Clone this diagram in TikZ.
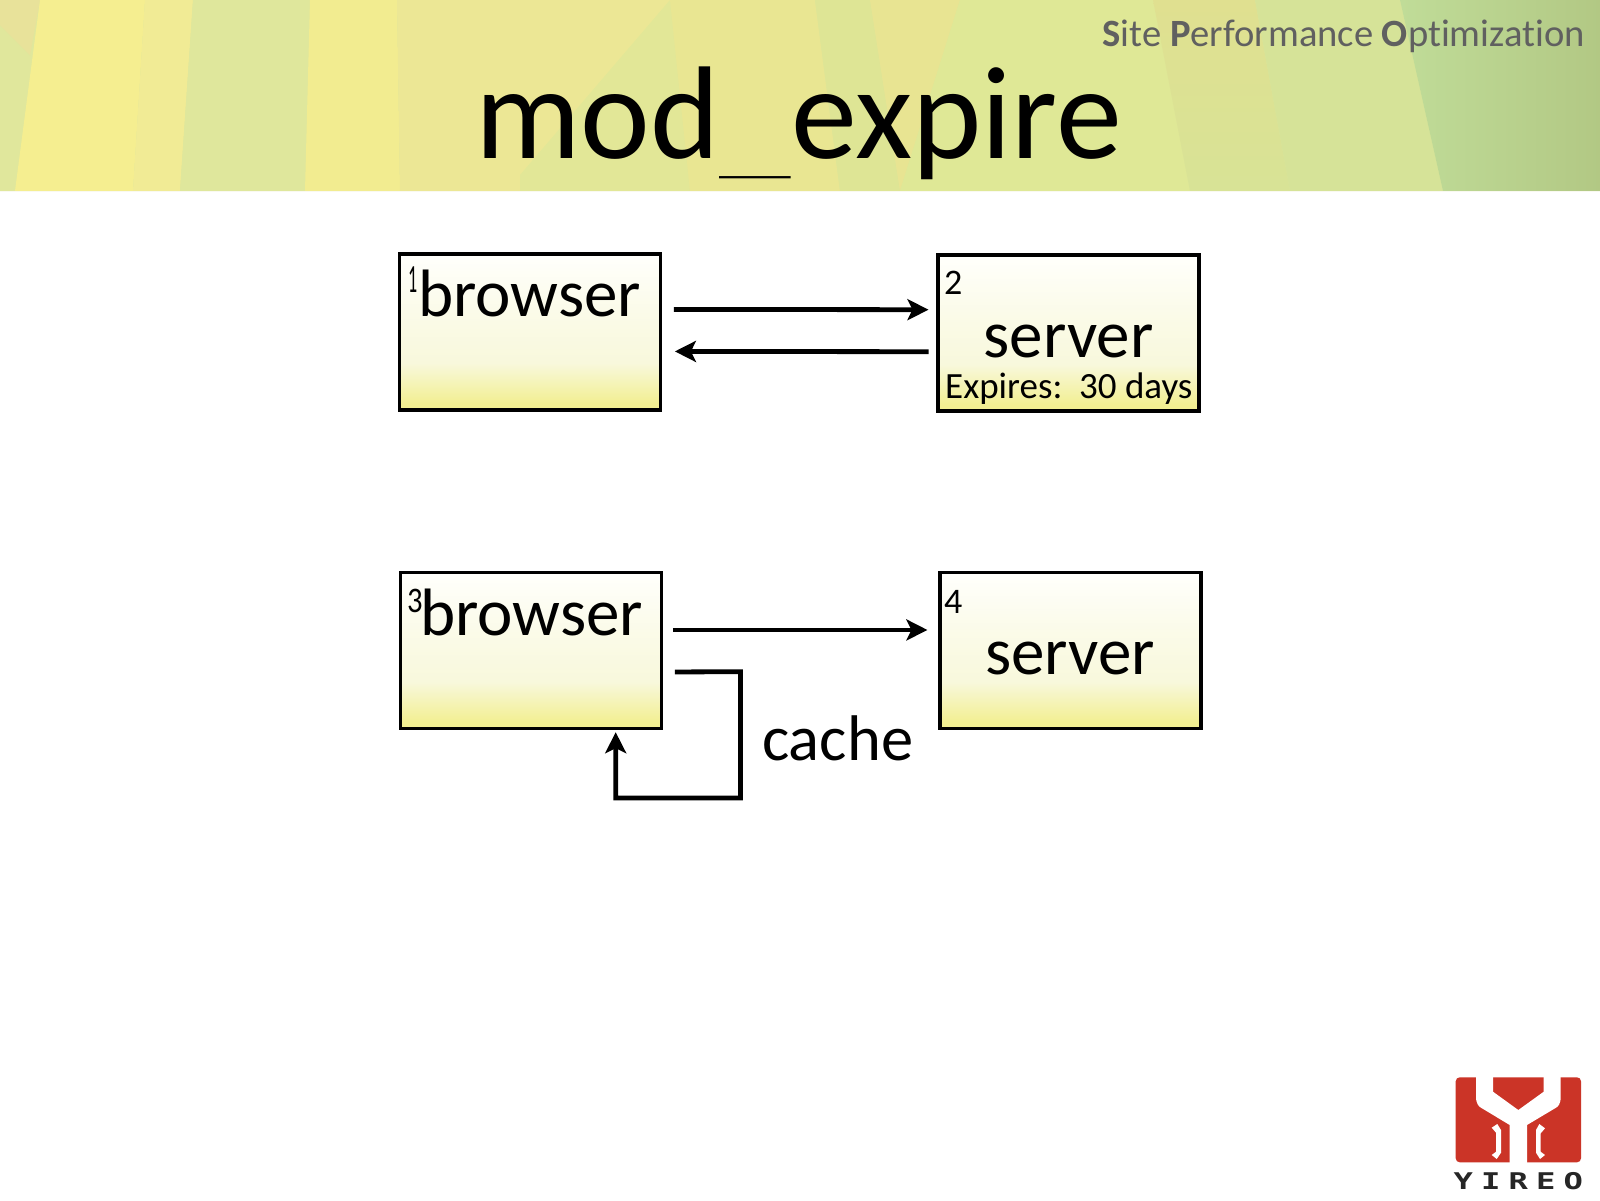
\documentclass[tikz,border=0pt]{standalone}
\usepackage{graphicx}
\usepackage{fontspec}
\setmainfont[Ligatures=NoCommon]{Carlito}
\newfontfamily\logofont{DejaVu Sans Mono}
\usetikzlibrary{arrows.meta,calc}
\definecolor{boxtop}{HTML}{FFFFFB}
\definecolor{boxmid}{HTML}{F8F8DC}
\definecolor{boxbot}{HTML}{F2EF92}
\definecolor{logored}{HTML}{CB3427}
\definecolor{hdgray}{HTML}{606060}
\definecolor{hdbase}{HTML}{E0E79C}
\definecolor{hdright}{HTML}{B2C884}
\definecolor{hdcorner}{HTML}{E8E29A}
\definecolor{hdwedge}{HTML}{E2E797}
\definecolor{hdgreen}{HTML}{C0DC98}
\definecolor{hdmidr}{HTML}{C6D98F}
\definecolor{hdbrownt}{HTML}{E0E090}
\definecolor{hdbrownb}{HTML}{D8E396}
\definecolor{hdedge}{HTML}{F9F9F0}
\pgfdeclareverticalshading{boxshade}{100bp}{color(0bp)=(boxbot);color(27bp)=(boxbot);color(40bp)=(boxmid);color(56bp)=(boxmid!60!boxtop);color(74bp)=(boxtop);color(100bp)=(boxtop)}
\newcommand{\band}[5]{\definecolor{bandcol}{HTML}{#5}\fill[bandcol] (#1,0) -- (#2,0) -- (#3,191) -- (#4,191) -- cycle;}
\tikzset{
  x=1pt,y=-1pt,
  diagbox/.style={draw=black,line width=3.5pt,shading=boxshade,inner sep=0pt,minimum width=261pt,minimum height=156pt,anchor=north west},
  lbl/.style={inner sep=0pt,anchor=base west,text=black},
  biglbl/.style={lbl,font=\fontsize{67}{67}\selectfont},
  numlbl/.style={lbl,font=\fontsize{36}{36}\selectfont},
  flow/.style={draw=black,line width=4.8pt,-{Stealth[length=21pt,width=21pt,inset=5pt]}},
}
\begin{document}
\begin{tikzpicture}
\useasboundingbox (0,0) rectangle (1600,1200);
\fill[white] (0,0) rectangle (1600,1200);
% header background
\fill[hdbase] (0,0) rectangle (1600,191);
\fill[hdcorner] (0,0) -- (40,0) -- (30,55) -- (0,25) -- cycle;
\band{40}{145}{133}{15}{F5EE90}
\band{145}{193}{180}{133}{F1EB95}
\band{193}{310}{305}{180}{DFE79C}
\band{310}{397}{400}{305}{F2EC90}
\band{397}{670}{690}{400}{ECE795}
\fill[hdwedge] (670,0) -- (520,175) -- (520,191) -- (690,191) -- cycle;
\band{670}{815}{840}{690}{E9E692}
\band{815}{870}{900}{840}{DEE595}
\band{870}{960}{900}{900}{E8E492}
\band{960}{1153}{1190}{900}{DFE896}
\shade[top color=hdbrownt,bottom color=hdbrownb] (1153,0) -- (1255,0) -- (1290,191) -- (1190,191) -- cycle;
\band{1255}{1400}{1443}{1290}{D6E398}
\shade[left color=hdgreen,middle color=hdmidr,right color=hdright] (1400,0) -- (1600,0) -- (1600,191) -- (1443,191) -- cycle;
\fill[hdedge] (0,190.5) rectangle (1600,192);
% titles
\node[lbl,font=\fontsize{132}{132}\selectfont] (title) at (475,158) {mod\raisebox{-15pt}{\scalebox{1.09}[0.3]{\_}}expire};
\node[inner sep=0pt,anchor=base east,text=hdgray,font=\fontsize{38.6}{39}\selectfont] (sitehd) at (1585,46) {\textbf{S}ite \textbf{P}erformance \textbf{O}ptimization};
% top row
\node[diagbox] (b1) at (397.7,252) {};
\node[diagbox] (b2) at (936,253.3) {};
\node[biglbl] (t1) at (418,316) {browser};
\node[biglbl] (t2) at (983.5,357) {server};
\node[lbl,font=\fontsize{37}{37}\selectfont] (t2b) at (945,398) {Expires:~~30 days};
\node[lbl,font=\fontsize{40}{40}\selectfont] (n1) at (408.5,292) {\scalebox{0.45}[1]{1}};
\node[numlbl] (n2) at (944,294) {2};
\draw[flow] ([shift={(11.7,-22.35)}]b1.east) -- ([shift={(-7.5,-23.35)}]b2.west);
\draw[flow] ([shift={(-7.5,18.65)}]b2.west) -- ([shift={(12.7,19.65)}]b1.east);
% bottom row
\node[diagbox] (b3) at (398.7,570.7) {};
\node[diagbox] (b4) at (938,570.7) {};
\node[biglbl] (t3) at (420,635) {browser};
\node[biglbl] (t4) at (985,674) {server};
\node[numlbl] (n3) at (407,612) {\scalebox{0.85}[1]{3}};
\node[numlbl] (n4) at (944,613) {4};
\draw[flow] ([shift={(9.7,-20.5)}]b3.east) -- ([shift={(-10.6,-20.5)}]b4.west);
\coordinate (loopa) at ([shift={(11.7,21.5)}]b3.east);
\coordinate (loopb) at (740.5,671.7);
\coordinate (loopc) at (740.5,798);
\coordinate (loopd) at (615.7,798);
\draw[flow,line join=miter] (loopa) -- (loopb) -- (loopc) -- (loopd) -- ([yshift=-2pt]loopd |- b3.south);
\node[biglbl,font=\fontsize{64.5}{65}\selectfont] (t5) at (762,760) {cache};
% logo
\fill[logored,rounded corners=4pt] (1455.7,1077.3) rectangle (1581,1162.3);
\fill[white] (1476,1076) -- (1476,1096.7) .. controls (1476,1104) and (1479,1107) .. (1482,1108.3) -- (1509.7,1125) -- (1509.7,1163) -- (1527,1163) -- (1527,1125) -- (1555,1108.3) .. controls (1558,1107) and (1560.7,1104) .. (1560.7,1096.7) -- (1560.7,1076) -- (1543.7,1076) -- (1543.7,1091.7) -- (1518.3,1110) -- (1493,1091.7) -- (1493,1076) -- cycle;
\fill[white] (1491.7,1127.7) -- (1497.3,1124) -- (1501,1130) -- (1501,1152.7) -- (1496.7,1159) -- (1491.7,1155) -- (1496,1151.7) -- (1496,1132.7) -- cycle;
\fill[white] (1545,1128.3) -- (1539.3,1124) -- (1536,1130) -- (1536,1152.7) -- (1540,1159) -- (1545,1155) -- (1540.7,1151.7) -- (1540.7,1133.3) -- cycle;
\node[inner sep=0pt,anchor=base,font=\logofont\bfseries\fontsize{23}{23}\selectfont,text=black!85] (logotxt) at (1518.3,1189) {\scalebox{1.4}[1]{Y\kern5.8pt I\kern5.8pt R\kern5.8pt E\kern5.8pt O}};
\end{tikzpicture}
\end{document}
